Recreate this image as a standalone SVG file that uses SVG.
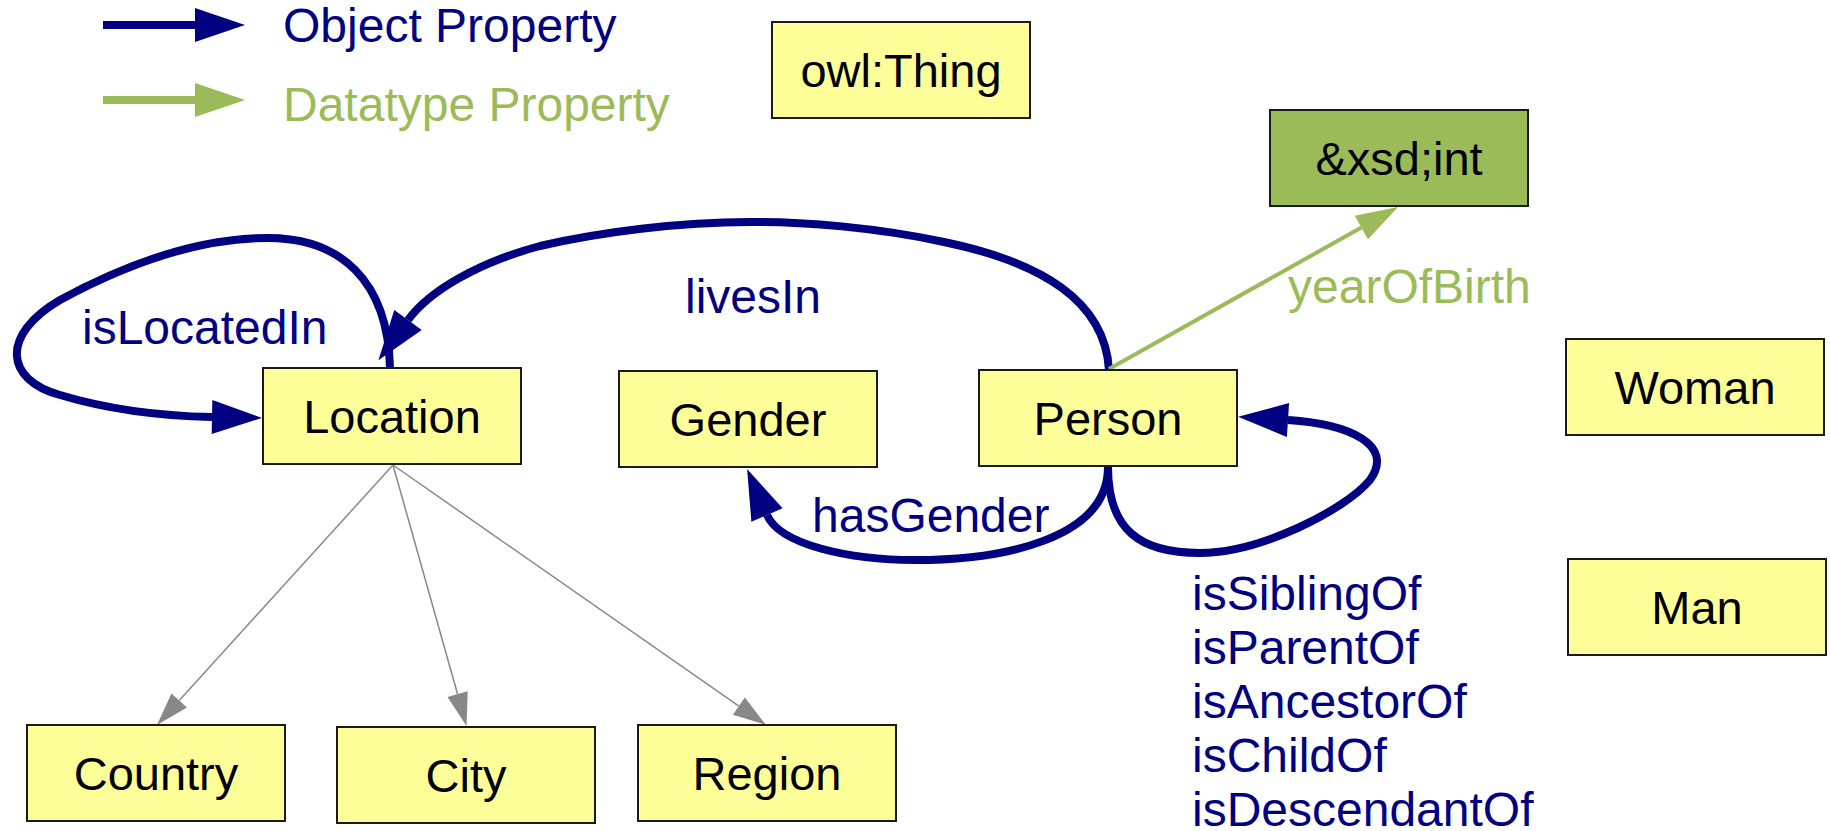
<svg xmlns="http://www.w3.org/2000/svg" width="1830" height="831" viewBox="0 0 1830 831">
<style>
.box{fill:#FFFF99;stroke:#1a1a1a;stroke-width:2}
.dt{fill:#9BBB59;stroke:#1a1a1a;stroke-width:2}
.nt{font-family:"Liberation Sans",Arial,sans-serif;font-size:47px;fill:#000;text-anchor:middle}
.lb{font-family:"Liberation Sans",Arial,sans-serif;font-size:48px;fill:#000080}
.lg{font-family:"Liberation Sans",Arial,sans-serif;font-size:48px;fill:#9BBB59}
.op{fill:none;stroke:#000080;stroke-width:8;marker-end:url(#aN)}
.dp{fill:none;stroke:#9BBB59;stroke-width:4;marker-end:url(#aG)}
.sc{fill:none;stroke:#888;stroke-width:1.5;marker-end:url(#aS)}
</style>
<defs>
<marker id="aN" markerUnits="userSpaceOnUse" markerWidth="50" markerHeight="34" refX="0" refY="17" orient="auto" overflow="visible"><path d="M0,0 L50,17 L0,34 z" fill="#000080"/></marker>
<marker id="aGL" markerUnits="userSpaceOnUse" markerWidth="50" markerHeight="34" refX="0" refY="17" orient="auto" overflow="visible"><path d="M0,0 L50,17 L0,34 z" fill="#9BBB59"/></marker>
<marker id="aG" markerUnits="userSpaceOnUse" markerWidth="42" markerHeight="27" refX="0" refY="13.5" orient="auto" overflow="visible"><path d="M0,0 L42,13.5 L0,27 z" fill="#9BBB59"/></marker>
<marker id="aS" markerUnits="userSpaceOnUse" markerWidth="33" markerHeight="21" refX="0" refY="10.5" orient="auto" overflow="visible"><path d="M0,0 L33,10.5 L0,21 z" fill="#888"/></marker>
</defs>

<g id="legend">
<path d="M103 25 L195 25" fill="none" stroke="#000080" stroke-width="8" marker-end="url(#aN)"/>
<text class="lb" x="283" y="42">Object Property</text>
<path d="M103 100 L195 100" fill="none" stroke="#9BBB59" stroke-width="8" marker-end="url(#aGL)"/>
<text class="lg" x="283" y="121">Datatype Property</text>
</g>

<g id="connectors">
<path class="op" d="M390 368 C388 280,340 238,268 238 C200 238,130 262,60 300 C0 335,5 380,60 395 C110 410,160 416,212 417"/>
<path class="op" d="M1109 370 C1105 300,1040 262,944 242 C880 228,800 221,750 222 C680 222,600 232,540 246 C480 262,430 290,408 320"/>
<path class="op" d="M1108 467 C1108 540,1000 560,915 560 C850 560,780 545,767 515"/>
<path class="op" d="M1108 467 C1108 530,1140 553,1200 553 C1260 553,1345 510,1370 480 C1395 445,1350 424,1288 420"/>
<path class="dp" d="M1109 369 L1361.4 227.5"/>
<path class="sc" d="M393 465 L179.2 700.5"/>
<path class="sc" d="M393 465 L457.6 694.2"/>
<path class="sc" d="M393 465 L738.9 706.1"/>
<text class="lb" x="82" y="344">isLocatedIn</text>
<text class="lb" x="685" y="313">livesIn</text>
<text class="lb" x="812" y="532">hasGender</text>
<text class="lg" x="1288" y="303">yearOfBirth</text>
<text class="lb" x="1192" y="610">isSiblingOf</text>
<text class="lb" x="1192" y="664">isParentOf</text>
<text class="lb" x="1192" y="718">isAncestorOf</text>
<text class="lb" x="1192" y="772">isChildOf</text>
<text class="lb" x="1192" y="826">isDescendantOf</text>
</g>

<g id="owlThing"><rect class="box" x="772" y="22" width="258" height="96"/><text class="nt" x="901" y="87">owl:Thing</text></g>
<g id="xsdInt"><rect class="dt" x="1270" y="110" width="258" height="96"/><text class="nt" x="1399" y="175">&amp;xsd;int</text></g>
<g id="Location"><rect class="box" x="263" y="368" width="258" height="96"/><text class="nt" x="392" y="433">Location</text></g>
<g id="Gender"><rect class="box" x="619" y="371" width="258" height="96"/><text class="nt" x="748" y="436">Gender</text></g>
<g id="Person"><rect class="box" x="979" y="370" width="258" height="96"/><text class="nt" x="1108" y="435">Person</text></g>
<g id="Woman"><rect class="box" x="1566" y="339" width="258" height="96"/><text class="nt" x="1695" y="404">Woman</text></g>
<g id="Man"><rect class="box" x="1568" y="559" width="258" height="96"/><text class="nt" x="1697" y="624">Man</text></g>
<g id="Country"><rect class="box" x="27" y="725" width="258" height="96"/><text class="nt" x="156" y="790">Country</text></g>
<g id="City"><rect class="box" x="337" y="727" width="258" height="96"/><text class="nt" x="466" y="792">City</text></g>
<g id="Region"><rect class="box" x="638" y="725" width="258" height="96"/><text class="nt" x="767" y="790">Region</text></g>
</svg>
